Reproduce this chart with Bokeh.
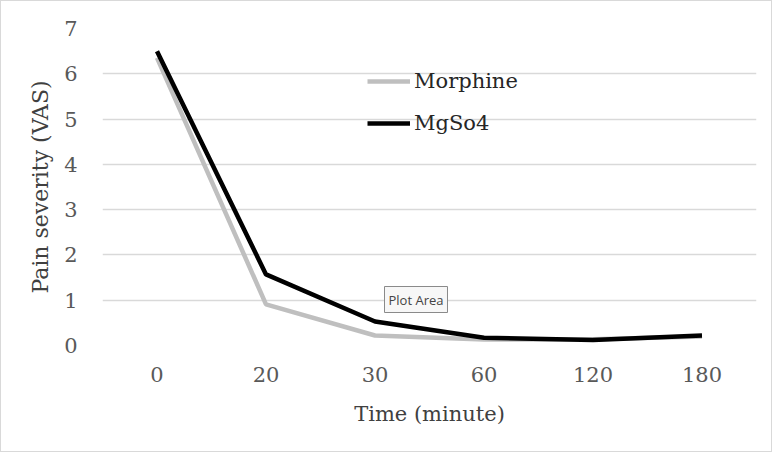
from bokeh.plotting import figure
from bokeh.models import FactorRange, Range1d, Legend, LegendItem, Label, FixedTicker
from bokeh.embed import file_html
from bokeh.resources import INLINE

times = ["0", "20", "30", "60", "120", "180"]
morphine = [6.35, 0.91, 0.22, 0.13, 0.14, 0.2]
mgso4 = [6.5, 1.57, 0.53, 0.17, 0.12, 0.22]
y_ticks = [0, 1, 2, 3, 4, 5, 6, 7]

FONT = "DejaVu Serif"

p = figure(width=772, height=452, x_range=FactorRange(factors=times, range_padding=0),
           y_range=Range1d(0, 7), output_backend="svg", toolbar_location=None,
           min_border_left=101, min_border_right=17, min_border_top=27, min_border_bottom=108)
p.styles = {"border": "1px solid #d9d9d9"}
p.outline_line_color = None
p.background_fill_color = "white"
p.border_fill_color = "white"

p.xgrid.grid_line_color = None
p.ygrid.grid_line_color = "#d9d9d9"
p.ygrid.grid_line_width = 1.3
p.yaxis.ticker = FixedTicker(ticks=y_ticks)

for ax in (p.xaxis[0], p.yaxis[0]):
    ax.axis_line_color = None
    ax.major_tick_line_color = None
    ax.minor_tick_line_color = None
    ax.major_label_text_font = FONT
    ax.major_label_text_font_size = "21px"
    ax.major_label_text_color = "#595959"
    ax.axis_label_text_font = FONT
    ax.axis_label_text_font_style = "normal"
    ax.axis_label_text_color = "#404040"

p.xaxis.axis_label_text_font_size = "21px"
p.yaxis.axis_label_text_font_size = "22px"
p.xaxis.axis_label = "Time (minute)"
p.yaxis.axis_label = "Pain severity (VAS)"
p.xaxis.major_label_standoff = 15
p.xaxis.axis_label_standoff = 17
p.yaxis.major_label_standoff = 19
p.yaxis.axis_label_standoff = 8

r1 = p.line(times, morphine, line_color="#bfbfbf", line_width=4.5)
r2 = p.line(times, mgso4, line_color="black", line_width=4.5)

legend = Legend(items=[LegendItem(label="Morphine", renderers=[r1]),
                       LegendItem(label="MgSo4", renderers=[r2])],
                location=(265, 210), padding=0, margin=0,
                glyph_width=43, glyph_height=20, label_height=20,
                spacing=18, label_standoff=4,
                label_text_font=FONT, label_text_font_size="21px",
                label_text_color="#262626",
                background_fill_alpha=0, border_line_color=None)
p.add_layout(legend, "center")

tip = Label(x=282, y=33, x_units="screen", y_units="screen", text="Plot Area",
            text_font="Open Sans", text_font_size="13px", text_color="#444444",
            background_fill_color="#f7f7f7", border_line_color="#8a8a8a",
            border_line_width=1, padding=4)
p.add_layout(tip)

open("out.html", "w").write(file_html(p, INLINE))
